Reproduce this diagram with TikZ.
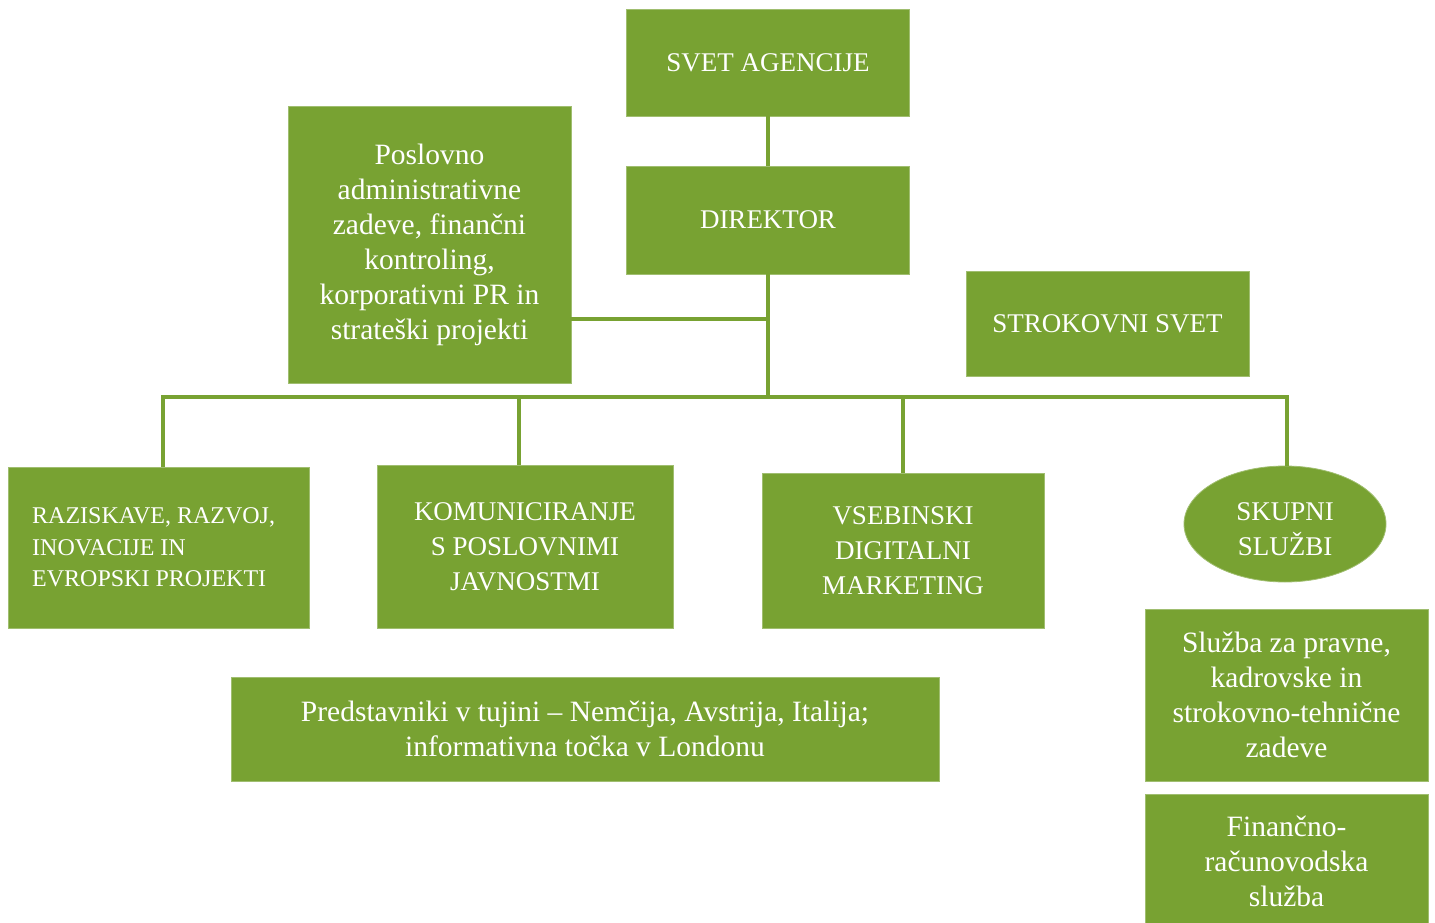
\documentclass[tikz,border=0pt]{standalone}
\usepackage{fontspec}
\setmainfont{Liberation Serif}
\usetikzlibrary{shapes.geometric}
\definecolor{leaf}{HTML}{78A232}
\tikzset{
  box/.style={rectangle, fill=leaf, draw=leaf!70!white, line width=0.8pt, text=white, inner sep=0pt, align=center,
    font=\fontsize{27}{35}\selectfont},
  mixed/.style={font=\fontsize{29.5}{35}\selectfont},
  oval/.style={ellipse, fill=leaf, draw=leaf!70!white, line width=0.8pt, text=white, inner sep=0pt, align=center,
    font=\fontsize{27}{35}\selectfont},
  link/.style={draw=leaf, line width=4pt}
}
\begin{document}
\begin{tikzpicture}[x=1pt,y=-1pt]
\useasboundingbox (0,0) rectangle (1435,923);
% boxes
\node[box, minimum width=283pt, minimum height=107pt] (svet) at (768,62.5) {SVET AGENCIJE};
\node[box, minimum width=283pt, minimum height=108pt] (dir) at (768,220) {DIREKTOR};
\node[box, mixed, minimum width=283pt, minimum height=277pt] (pos) at (429.5,244.5)
  {Poslovno\\administrativne\\zadeve, finančni\\kontroling,\\korporativni PR in\\strateški projekti};
\node[box, minimum width=283pt, minimum height=105pt] (strok) at (1107.5,323.5) {STROKOVNI SVET};
\node[box, minimum width=301pt, minimum height=161pt] (raz) at (158.5,547.5) {};
\node[anchor=west, text=white, align=left, inner sep=0pt, font=\fontsize{24}{31.5}\selectfont] (raztext) at (32,547.5)
  {RAZISKAVE, RAZVOJ,\\INOVACIJE IN\\EVROPSKI PROJEKTI};
\node[box, minimum width=296pt, minimum height=163pt] (kom) at (525,546.5)
  {KOMUNICIRANJE\\S POSLOVNIMI\\JAVNOSTMI};
\node[box, minimum width=282pt, minimum height=155pt] (vseb) at (903,550.5)
  {VSEBINSKI\\DIGITALNI\\MARKETING};
\node[oval, minimum width=202pt, minimum height=116pt] (skup) at (1285,524) {};
\node[text=white, align=center, inner sep=0pt, font=\fontsize{27}{35}\selectfont] (skuptext) at (1285,529)
  {SKUPNI\\SLUŽBI};
\node[box, mixed, minimum width=708pt, minimum height=104pt] (pred) at (585,729)
  {Predstavniki v tujini – Nemčija, Avstrija, Italija;\\informativna točka v Londonu};
\node[box, mixed, minimum width=283pt, minimum height=172pt] (sluz) at (1286.5,695)
  {Služba za pravne,\\kadrovske in\\strokovno-tehnične\\zadeve};
\node[box, mixed, minimum width=283pt, minimum height=134pt] (fin) at (1286.5,861)
  {Finančno-\\računovodska\\služba};
% connectors
\coordinate (bar) at (768,397);
\coordinate (jp) at (768,319);
\coordinate (bl) at (163,397);
\coordinate (br) at (1287,397);
\draw[link] (svet.south) -- (dir.north);
\draw[link] (dir.south) -- (bar);
\draw[link] (jp) -- (jp -| pos.east);
\draw[link, line cap=rect] (bl) -- (br);
\draw[link] (bl) -- (bl |- raz.north);
\draw[link] (519,397) coordinate (k1) -- (k1 |- kom.north);
\draw[link] (903,397) coordinate (v1) -- (v1 |- vseb.north);
\draw[link] (br) -- (br |- skup.north);
\end{tikzpicture}
\end{document}
